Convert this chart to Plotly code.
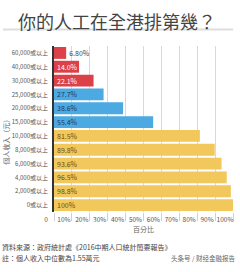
import plotly.graph_objects as go

categories = ["60,000或以上", "40,000或以上", "30,000或以上", "25,000或以上",
              "20,000或以上", "15,000或以上", "10,000或以上", "8,000或以上",
              "6,000或以上", "4,000或以上", "2,000或以上", "0或以上"]
values = [6.8, 14.0, 22.1, 27.7, 38.6, 55.4, 81.5, 89.8, 93.6, 96.5, 98.8, 100]
value_labels = ["6.80%", "14.0%", "22.1%", "27.7%", "38.6%", "55.4%", "81.5%",
                "89.8%", "93.6%", "96.5%", "98.8%", "100%"]
tick_vals = [0, 10, 20, 30, 40, 50, 60, 70, 80, 90, 100]
tick_text = ["0", "10%", "20%", "30%", "40%", "50%", "60%", "70%", "80%", "90%", "100%"]

RED, BLUE, YEL = "#DC4049", "#4DA9E2", "#F2C75C"
colors = [RED] * 3 + [BLUE] * 3 + [YEL] * 6
text_colors = ["#444444"] + ["#FFFFFF"] * 2 + ["#1F3A5A"] * 3 + ["#6B4E10"] * 6
positions = ["outside"] + ["inside"] * 11

FONT = "Noto Sans CJK TC"

fig = go.Figure(go.Bar(
    x=values, y=categories, orientation="h",
    marker=dict(color=colors, line=dict(width=0)),
    text=value_labels, textposition=positions, insidetextanchor="start",
    textfont=dict(size=7, color=text_colors, family=FONT),
    constraintext="none", cliponaxis=False,
))

fig.update_layout(
    width=240, height=272,
    margin=dict(l=54, r=7, t=46, b=60),
    paper_bgcolor="white", plot_bgcolor="white",
    font=dict(family=FONT, color="#555555", size=7),
    bargap=0.14, showlegend=False,
    xaxis=dict(range=[0, 100], tickvals=tick_vals, ticktext=tick_text,
               showgrid=True, gridcolor="#D9D9D9", gridwidth=1,
               zeroline=False, showline=False,
               ticks="outside", ticklen=8, tickcolor="#D0D0D0",
               ticklabelshift=-8, ticklabelstandoff=-7,
               tickfont=dict(size=6.5, color="#555555"),
               title=dict(text="百分比", font=dict(size=7, color="#666666"), standoff=2),
               fixedrange=True),
    yaxis=dict(categoryorder="array", categoryarray=categories, autorange="reversed",
               showline=True, linecolor="#333333", linewidth=1.5,
               ticks="", tickfont=dict(size=6, color="#555555"),
               ticklabelstandoff=3, showgrid=False),
)

fig.add_annotation(text="個人收入（元）", textangle=-90, x=-0.273, y=0.43,
                   xref="paper", yref="paper", xanchor="center", showarrow=False,
                   font=dict(size=7, color="#666666"))

fig.add_annotation(text="你的人工在全港排第幾？", x=0.35, y=1.24,
                   xref="paper", yref="paper", showarrow=False,
                   font=dict(size=18, color="#444444"))
fig.add_shape(type="line", xref="paper", yref="paper",
              x0=-0.285, x1=1.0, y0=1.10, y1=1.10,
              line=dict(color="#DDDDDD", width=2))

fig.add_annotation(text="資料來源：政府統計處《2016中期人口統計簡要報告》",
                   x=-0.30, y=-0.255, xref="paper", yref="paper", xanchor="left",
                   showarrow=False, font=dict(size=7, color="#444444"))
fig.add_annotation(text="註：個人收入中位數為1.55萬元",
                   x=-0.30, y=-0.32, xref="paper", yref="paper", xanchor="left",
                   showarrow=False, font=dict(size=7, color="#444444"))
fig.add_annotation(text="头条号 / 财经金融报告",
                   x=1.02, y=-0.32, xref="paper", yref="paper", xanchor="right",
                   showarrow=False, font=dict(size=6.5, color="#666666"))

fig.write_html("out.html")
